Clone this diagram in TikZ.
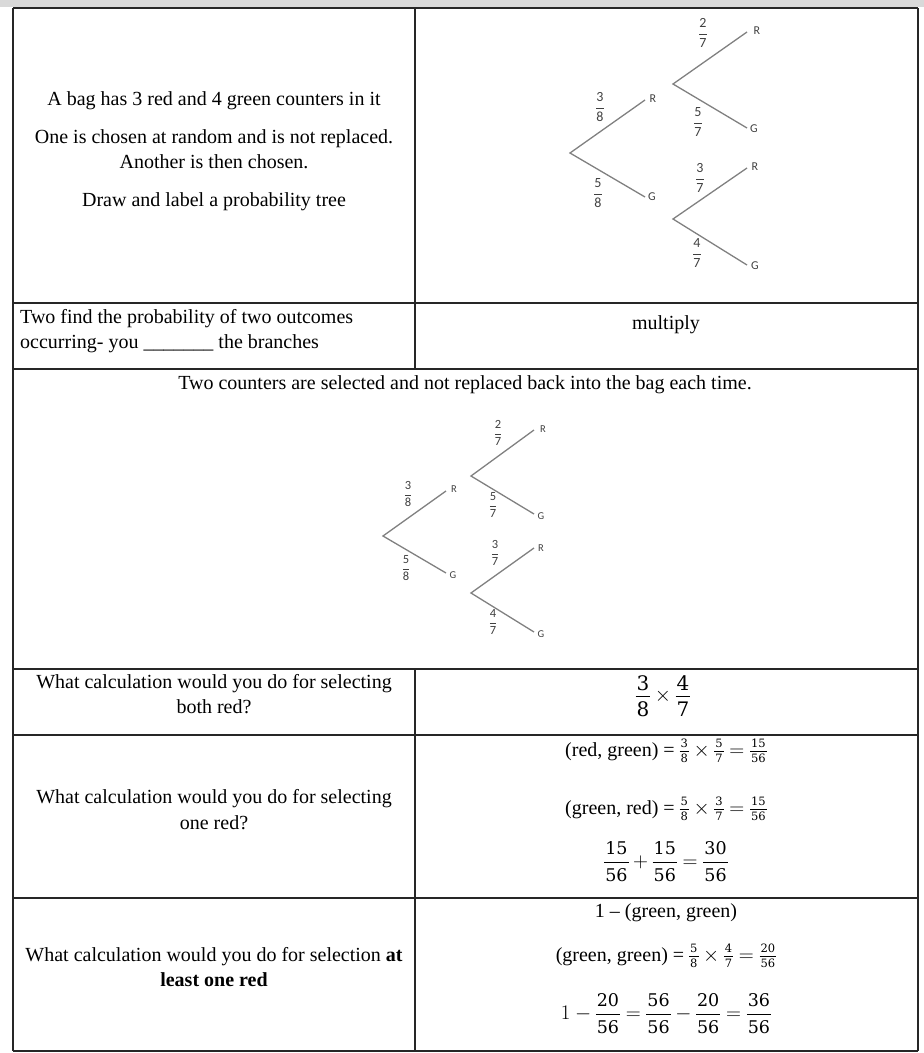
\documentclass[tikz,border=0pt]{standalone}
\usepackage{fontspec}
\setmainfont{Liberation Serif}
\newfontfamily\calib{Carlito}
\newfontfamily\mfont{DejaVu Serif}
\newcommand\stk[2]{$\displaystyle\frac{\hbox{#1}}{\hbox{#2}}$}
\newcommand\fq[4]{\vcenter{\mfont\fontsize{#1}{#1}\selectfont\offinterlineskip
  \halign{\hfil\kern1pt##\kern1pt\hfil\cr #3\cr\noalign{\kern#2pt\hrule height 0.7pt\kern#2pt}#4\cr}}}
\begin{document}
\begin{tikzpicture}[x=1pt,y=-1pt,
  tline/.style={draw=black!85, line width=1.1pt},
  br/.style={draw=black!50, line width=1.3pt},
  lab/.style={font=\calib\fontsize{12}{14}\selectfont, text=black!75, inner sep=0},
  fr/.style={font=\calib\fontsize{14}{16}\selectfont, text=black!75, inner sep=0},
  labm/.style={font=\calib\fontsize{10.5}{12}\selectfont, text=black!75, inner sep=0},
  frm/.style={font=\calib\fontsize{12.5}{14}\selectfont, text=black!75, inner sep=0},
  txt/.style={font=\fontsize{20}{25}\selectfont, anchor=base, inner sep=0},
  txtl/.style={txt, anchor=base west},
  mth/.style={font=\fontsize{20}{25}\selectfont, anchor=center, inner sep=0}]
\useasboundingbox (0,0) rectangle (924,1053);
\fill[gray!30] (0,0) rectangle (924,7);
% table
\draw[tline] (13,8) -- (918,8);
\draw[tline] (13,303) -- (918,303);
\draw[tline] (13,369) -- (918,369);
\draw[tline] (13,669) -- (918,669);
\draw[tline] (13,735) -- (918,735);
\draw[tline] (13,898) -- (918,898);
\draw[tline] (13,1051) -- (918,1051);
\draw[tline] (13,8) -- (13,1051);
\draw[tline] (918,8) -- (918,1051);
\draw[tline] (415,8) -- (415,369);
\draw[tline] (415,669) -- (415,1051);
% row 1 left
\node[txt] (t1) at (214,105) {A bag has 3 red and 4 green counters in it};
\node[txt] (t2) at (214,143) {One is chosen at random and is not replaced.};
\node[txt] (t3) at (214,168) {Another is then chosen.};
\node[txt] (t4) at (214,206) {Draw and label a probability tree};
% top tree
\coordinate (a0) at (570,153);
\coordinate (a1) at (645,100);
\coordinate (a2) at (645,197);
\coordinate (b0) at (673,84);
\coordinate (b1) at (747,32);
\coordinate (b2) at (747,128);
\coordinate (c0) at (673,219);
\coordinate (c1) at (747,168);
\coordinate (c2) at (747,265);
\draw[br] (a1) -- (a0) -- (a2);
\draw[br] (b1) -- (b0) -- (b2);
\draw[br] (c1) -- (c0) -- (c2);
\node[lab] (aR) at (653,99) {R};
\node[lab] (aG) at (652,197) {G};
\node[lab] (bR) at (757,31) {R};
\node[lab] (bG) at (754,129) {G};
\node[lab] (cR) at (755,167) {R};
\node[lab] (cG) at (755,266) {G};
\node[fr] (fa1) at (600,107) {\stk38};
\node[fr] (fa2) at (598,193) {\stk58};
\node[fr] (fb1) at (703,33) {\stk27};
\node[fr] (fb2) at (698,122) {\stk57};
\node[fr] (fc1) at (700,178) {\stk37};
\node[fr] (fc2) at (697,253) {\stk47};
% row 2
\node[txtl] (q1) at (20,323) {Two find the probability of two outcomes};
\node[txtl] (q2) at (20,348) {occurring- you \_\_\_\_\_\_\_ the branches};
\node[txt] (ans2) at (666,329) {multiply};
% row 3
\node[txt] (r3) at (465,389) {Two counters are selected and not replaced back into the bag each time.};
\coordinate (m0) at (383,536);
\coordinate (m1) at (446,491);
\coordinate (m2) at (446,573);
\coordinate (n0) at (471,476);
\coordinate (n1) at (534,430);
\coordinate (n2) at (534,514);
\coordinate (p0) at (471,593);
\coordinate (p1) at (534,548);
\coordinate (p2) at (534,632);
\draw[br] (m1) -- (m0) -- (m2);
\draw[br] (n1) -- (n0) -- (n2);
\draw[br] (p1) -- (p0) -- (p2);
\node[labm] (mR) at (454,489) {R};
\node[labm] (mG) at (453,575) {G};
\node[labm] (nR) at (543,429) {R};
\node[labm] (nG) at (541,516) {G};
\node[labm] (pR) at (541,548) {R};
\node[labm] (pG) at (541,634) {G};
\node[frm] (fm1) at (408,494) {\stk38};
\node[frm] (fm2) at (406,568) {\stk58};
\node[frm] (fn1) at (498,433) {\stk27};
\node[frm] (fn2) at (493,505) {\stk57};
\node[frm] (fp1) at (495,553) {\stk37};
\node[frm] (fp2) at (493,622) {\stk47};
% row 4
\node[txt] (q4a) at (214,688) {What calculation would you do for selecting};
\node[txt] (q4b) at (214,713) {both red?};
\node[mth] (a4) at (663,696) {$\fq{20}{5}38\times\fq{20}{5}47$};
% row 5
\node[txt] (q5a) at (214,803) {What calculation would you do for selecting};
\node[txt] (q5b) at (214,829) {one red?};
\node[mth] (a5a) at (666,751) {(red, green) = $\fq{11.5}{2.8}38\times\fq{11.5}{2.8}57=\fq{11.5}{2.8}{15}{56}$};
\node[mth] (a5b) at (666,809) {(green, red) = $\fq{11.5}{2.8}58\times\fq{11.5}{2.8}37=\fq{11.5}{2.8}{15}{56}$};
\node[mth] (a5c) at (666,862) {$\fq{17.5}{6.5}{15}{56}+\fq{17.5}{6.5}{15}{56}=\fq{17.5}{6.5}{30}{56}$};
% row 6
\node[txt] (q6a) at (214,961) {What calculation would you do for selection \textbf{at}};
\node[txt] (q6b) at (214,986) {\textbf{least one red}};
\node[mth] (a6a) at (666,913) {1 -- (green, green)};
\node[mth] (a6b) at (666,956) {(green, green) = $\fq{11.5}{2.8}58\times\fq{11.5}{2.8}47=\fq{11.5}{2.8}{20}{56}$};
\node[mth] (a6c) at (666,1014) {$1-\fq{17.5}{6.5}{20}{56}=\fq{17.5}{6.5}{56}{56}-\fq{17.5}{6.5}{20}{56}=\fq{17.5}{6.5}{36}{56}$};
\end{tikzpicture}
\end{document}
